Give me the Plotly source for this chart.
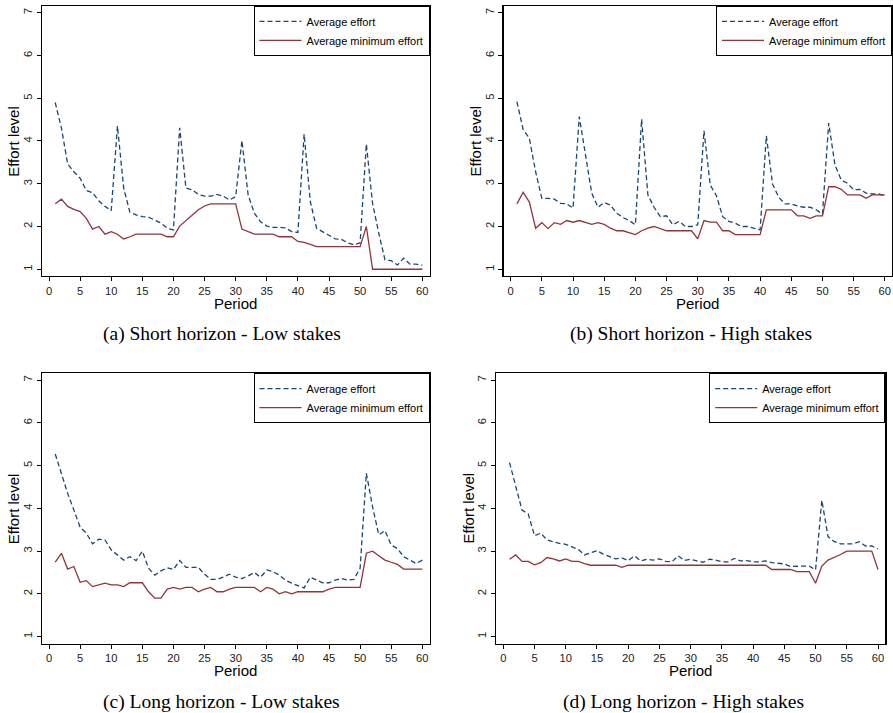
import plotly.graph_objects as go

W, H = 893, 713

periods = list(range(1, 61))

a_avg = [4.90, 4.30, 3.46, 3.28, 3.13, 2.84, 2.79, 2.60, 2.47, 2.37,
         4.35, 2.90, 2.33, 2.27, 2.23, 2.22, 2.15, 2.08, 1.96, 1.92,
         4.31, 2.90, 2.86, 2.75, 2.71, 2.71, 2.75, 2.71, 2.62, 2.70,
         4.01, 2.74, 2.31, 2.11, 2.01, 1.98, 1.98, 1.97, 1.88, 1.86,
         4.16, 2.58, 1.96, 1.88, 1.79, 1.71, 1.70, 1.62, 1.57, 1.62,
         3.93, 2.54, 1.84, 1.22, 1.20, 1.10, 1.26, 1.12, 1.12, 1.09]
a_min = [2.53, 2.64, 2.47, 2.40, 2.35, 2.19, 1.94, 2.00, 1.82, 1.88,
         1.82, 1.71, 1.76, 1.82, 1.82, 1.82, 1.82, 1.82, 1.76, 1.76,
         2.01, 2.14, 2.26, 2.39, 2.48, 2.53, 2.53, 2.53, 2.53, 2.53,
         1.94, 1.88, 1.82, 1.82, 1.82, 1.82, 1.76, 1.76, 1.76, 1.65,
         1.63, 1.58, 1.53, 1.53, 1.53, 1.53, 1.53, 1.53, 1.53, 1.53,
         2.00, 1.00, 1.00, 1.00, 1.00, 1.00, 1.00, 1.00, 1.00, 1.00]

b_avg = [4.92, 4.27, 4.06, 3.28, 2.66, 2.66, 2.64, 2.54, 2.53, 2.43,
         4.57, 3.64, 2.78, 2.45, 2.56, 2.50, 2.31, 2.21, 2.14, 2.04,
         4.51, 2.74, 2.45, 2.23, 2.25, 2.04, 2.12, 2.00, 2.00, 2.04,
         4.24, 2.97, 2.72, 2.23, 2.12, 2.08, 2.00, 2.00, 1.96, 1.92,
         4.12, 2.99, 2.68, 2.53, 2.53, 2.48, 2.45, 2.45, 2.39, 2.29,
         4.42, 3.44, 3.09, 3.01, 2.86, 2.87, 2.78, 2.76, 2.76, 2.72]
b_min = [2.53, 2.80, 2.57, 1.96, 2.09, 1.95, 2.09, 2.05, 2.14, 2.10,
         2.14, 2.10, 2.05, 2.09, 2.05, 1.96, 1.90, 1.90, 1.86, 1.81,
         1.90, 1.96, 2.00, 1.95, 1.90, 1.90, 1.90, 1.90, 1.90, 1.71,
         2.14, 2.10, 2.10, 1.90, 1.90, 1.81, 1.81, 1.81, 1.81, 1.81,
         2.39, 2.39, 2.39, 2.39, 2.39, 2.25, 2.25, 2.19, 2.25, 2.25,
         2.93, 2.93, 2.87, 2.74, 2.74, 2.74, 2.66, 2.74, 2.74, 2.74]

c_avg = [5.27, 4.78, 4.35, 3.96, 3.56, 3.42, 3.17, 3.28, 3.26, 3.03,
         2.91, 2.79, 2.87, 2.78, 3.00, 2.60, 2.44, 2.54, 2.61, 2.57,
         2.78, 2.62, 2.62, 2.62, 2.46, 2.34, 2.34, 2.39, 2.46, 2.39,
         2.36, 2.42, 2.50, 2.39, 2.56, 2.52, 2.44, 2.32, 2.25, 2.19,
         2.14, 2.39, 2.32, 2.26, 2.26, 2.32, 2.36, 2.32, 2.34, 2.60,
         4.82, 4.04, 3.38, 3.48, 3.14, 3.06, 2.87, 2.79, 2.71, 2.79]
c_min = [2.74, 2.95, 2.58, 2.64, 2.27, 2.31, 2.17, 2.21, 2.25, 2.21,
         2.21, 2.17, 2.26, 2.26, 2.26, 2.05, 1.90, 1.90, 2.11, 2.15,
         2.11, 2.15, 2.15, 2.05, 2.11, 2.15, 2.05, 2.05, 2.11, 2.15,
         2.15, 2.15, 2.15, 2.05, 2.15, 2.11, 2.00, 2.05, 2.00, 2.05,
         2.05, 2.05, 2.05, 2.05, 2.11, 2.15, 2.15, 2.15, 2.15, 2.15,
         2.95, 3.00, 2.89, 2.79, 2.74, 2.69, 2.58, 2.58, 2.58, 2.58]

d_avg = [5.07, 4.51, 3.96, 3.87, 3.36, 3.42, 3.26, 3.22, 3.18, 3.16,
         3.10, 3.04, 2.91, 2.96, 3.01, 2.93, 2.87, 2.82, 2.84, 2.78,
         2.89, 2.77, 2.81, 2.79, 2.82, 2.76, 2.75, 2.89, 2.78, 2.81,
         2.77, 2.74, 2.81, 2.79, 2.75, 2.75, 2.83, 2.77, 2.78, 2.75,
         2.75, 2.77, 2.73, 2.71, 2.70, 2.64, 2.65, 2.65, 2.65, 2.56,
         4.19, 3.34, 3.22, 3.17, 3.17, 3.17, 3.22, 3.12, 3.12, 3.05]
d_min = [2.81, 2.91, 2.76, 2.76, 2.68, 2.73, 2.85, 2.82, 2.77, 2.82,
         2.76, 2.76, 2.71, 2.67, 2.67, 2.67, 2.67, 2.67, 2.62, 2.67,
         2.67, 2.67, 2.67, 2.67, 2.67, 2.67, 2.67, 2.67, 2.67, 2.67,
         2.67, 2.67, 2.67, 2.67, 2.67, 2.67, 2.67, 2.67, 2.67, 2.67,
         2.67, 2.67, 2.57, 2.57, 2.57, 2.57, 2.52, 2.52, 2.52, 2.25,
         2.65, 2.79, 2.85, 2.92, 3.00, 3.00, 3.00, 3.00, 3.00, 2.57]

captions = ["(a) Short horizon - Low stakes", "(b) Short horizon - High stakes",
            "(c) Long horizon - Low stakes", "(d) Long horizon - High stakes"]
series_names = ["Average effort", "Average minimum effort"]
x_ticks = list(range(0, 61, 5))
y_ticks = list(range(1, 8))

BLUE = "#1a476f"
RED = "#90353b"
SANS = "Liberation Sans, Arial, sans-serif"
SERIF = "Liberation Serif, Times New Roman, serif"

# panel boxes in pixels: left, right, top, bottom
boxes = [
    (41.85, 429.5, 5.86, 276.1),
    (503.5, 892.0, 5.86, 276.1),
    (41.85, 429.5, 373.2, 643.5),
    (496.1, 885.2, 373.2, 643.5),
]
data = [(a_avg, a_min), (b_avg, b_min), (c_avg, c_min), (d_avg, d_min)]


def fx(px):
    return px / W


def fy(py):
    return 1 - py / H


fig = go.Figure()
annotations = []
layout = {}
for i, ((L, R, T, B), (avg, mn), cap) in enumerate(zip(boxes, data, captions)):
    k = "" if i == 0 else str(i + 1)
    leg = "legend" + k
    fig.add_trace(go.Scatter(x=periods, y=avg, mode="lines", name=series_names[0],
                             line=dict(color=BLUE, width=1.3, dash="5px,3px"),
                             xaxis="x" + k, yaxis="y" + k, legend=leg))
    fig.add_trace(go.Scatter(x=periods, y=mn, mode="lines", name=series_names[1],
                             line=dict(color=RED, width=1.3),
                             xaxis="x" + k, yaxis="y" + k, legend=leg))
    common = dict(showline=True, linecolor="black", linewidth=1.3, mirror=True,
                  ticks="outside", ticklen=4, tickwidth=1, tickcolor="black",
                  showgrid=False, zeroline=False,
                  tickfont=dict(family=SANS, size=11.2, color="#222"))
    layout["xaxis" + k] = dict(domain=[fx(L), fx(R)], range=[-1.15, 61.15],
                               tickvals=x_ticks, anchor="y" + k, **common)
    layout["yaxis" + k] = dict(domain=[fy(B), fy(T)], range=[0.84, 7.16],
                               tickvals=y_ticks, tickangle=-90, anchor="x" + k, **common)
    layout[leg] = dict(x=fx(R), y=fy(T), xanchor="right", yanchor="top",
                       bgcolor="white", bordercolor="black", borderwidth=1,
                       font=dict(family=SANS, size=11, color="black"),
                       itemwidth=42, tracegroupgap=0)
    cx = (L + R) / 2
    annotations.append(dict(text="Period", x=fx(cx), y=fy(B + 27), xref="paper", yref="paper",
                            showarrow=False, font=dict(family=SANS, size=15, color="black"),
                            xanchor="center", yanchor="middle"))
    annotations.append(dict(text="Effort level", x=fx(L - 28), y=fy((T + B) / 2),
                            xref="paper", yref="paper", textangle=-90,
                            showarrow=False, font=dict(family=SANS, size=15, color="black"),
                            xanchor="center", yanchor="middle"))
    annotations.append(dict(text=cap, x=fx(cx - 14 if i % 2 == 0 else cx - 7), y=fy(B + 58),
                            xref="paper", yref="paper",
                            showarrow=False, font=dict(family=SERIF, size=19.5, color="black"),
                            xanchor="center", yanchor="middle"))

fig.update_layout(width=W, height=H,
                  margin=dict(l=0, r=0, t=0, b=0, pad=0, autoexpand=False),
                  paper_bgcolor="white", plot_bgcolor="white",
                  annotations=annotations, hovermode=False, **layout)

fig.write_html("out.html", config={"displayModeBar": False, "staticPlot": True},
               post_script="document.body.style.margin='0px';document.body.style.overflow='hidden';")
